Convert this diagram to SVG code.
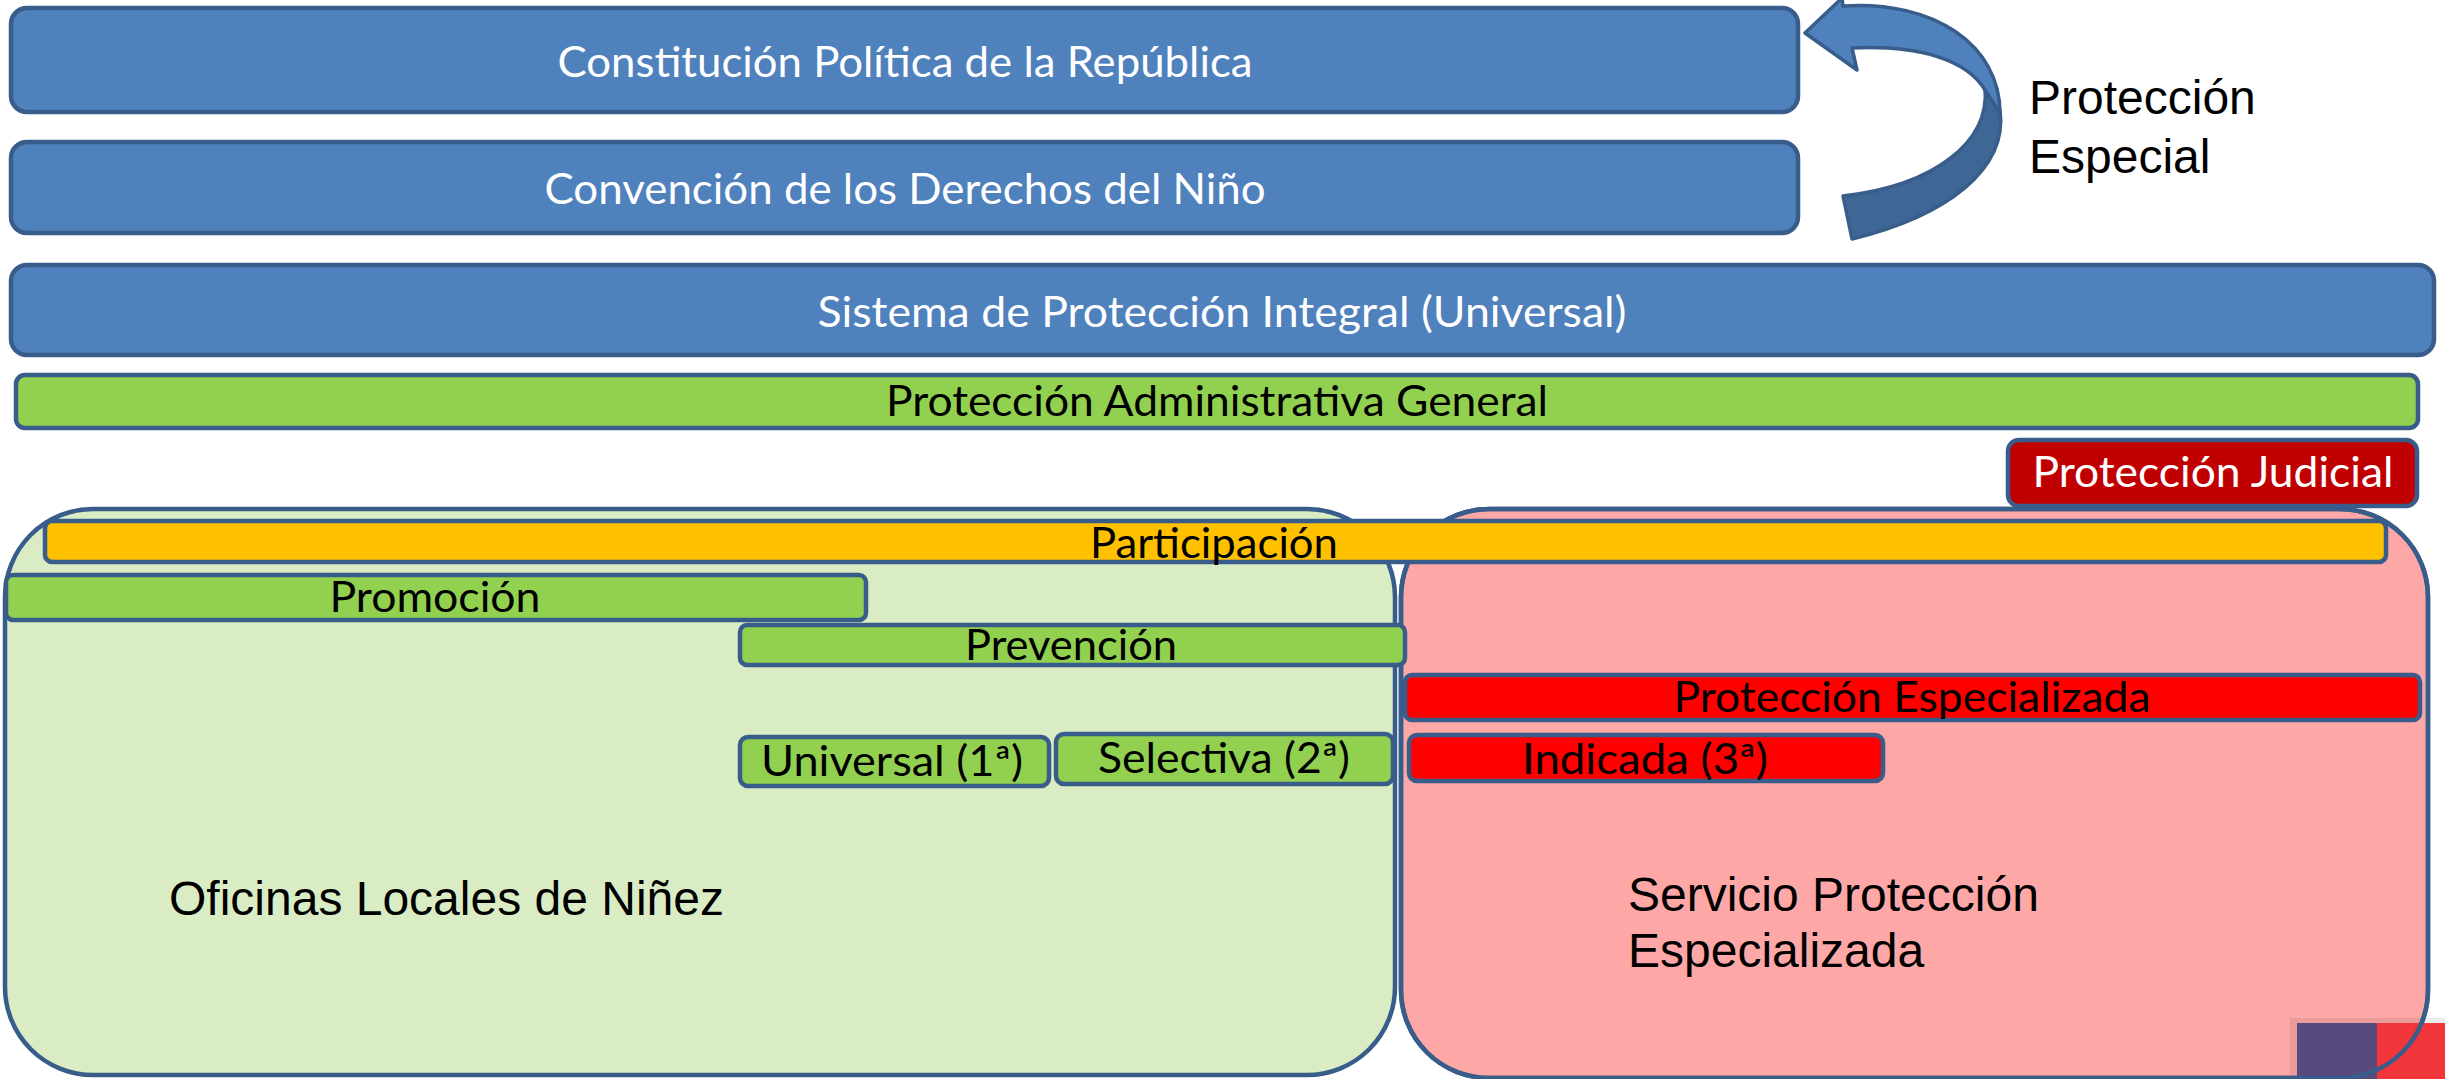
<svg xmlns="http://www.w3.org/2000/svg" width="2445" height="1079" viewBox="0 0 2445 1079">
<style>
.bx{stroke:#385D8A;stroke-width:4.5}
.blue{fill:#4F81BD}
.grn{fill:#92D050}
.red{fill:#FF0000}
.dred{fill:#C00000}
.org{fill:#FFC000}
.t{font-family:Lato,'Open Sans',sans-serif;font-size:42px;text-anchor:middle}
.w{fill:#FFFFFF}
.k{fill:#000000}
.a{font-family:'Liberation Sans',Arial,sans-serif;font-size:48px;fill:#000000}
</style>
<rect width="2445" height="1079" fill="#FFFFFF"/>

<g id="oficinas-locales">
<rect class="bx" x="5" y="509" width="1390" height="566" rx="88" fill="#D9ECC4"/>
<text class="a" x="169" y="915">Oficinas Locales de Niñez</text>
</g>

<g id="servicio-proteccion">
<rect class="bx" x="1401" y="509" width="1027" height="569" rx="88" fill="#FEA7A7"/>
<text class="a" x="1628" y="911">Servicio Protección</text>
<text class="a" x="1628" y="967">Especializada</text>
</g>

<g id="logo">
<rect x="2290" y="1018" width="155" height="61" fill="#000000" fill-opacity="0.07"/>
<rect x="2297" y="1023" width="80" height="56" fill="#584A7C"/>
<rect x="2377" y="1023" width="68" height="56" fill="#F0363A"/>
<rect x="1401" y="509" width="1027" height="569" rx="88" fill="none" stroke="#385D8A" stroke-width="4.5"/>
</g>

<g id="constitucion">
<rect class="bx blue" x="11" y="8" width="1787" height="104" rx="16"/>
<text class="t w" x="905" y="77" textLength="695" lengthAdjust="spacingAndGlyphs">Constitución Política de la República</text>
</g>

<g id="convencion">
<rect class="bx blue" x="11" y="142" width="1787" height="91" rx="16"/>
<text class="t w" x="905" y="204" textLength="721" lengthAdjust="spacingAndGlyphs">Convención de los Derechos del Niño</text>
</g>

<g id="sistema">
<rect class="bx blue" x="11" y="265" width="2423" height="90" rx="16"/>
<text class="t w" x="1222" y="327" textLength="809" lengthAdjust="spacingAndGlyphs">Sistema de Protección Integral (Universal)</text>
</g>

<g id="proteccion-administrativa">
<rect class="bx grn" x="16" y="375" width="2402" height="53" rx="9"/>
<text class="t k" x="1217" y="416" textLength="662" lengthAdjust="spacingAndGlyphs">Protección Administrativa General</text>
</g>

<g id="proteccion-judicial">
<rect class="bx dred" x="2008" y="440" width="409" height="66" rx="11"/>
<text class="t w" x="2213" y="487" textLength="361" lengthAdjust="spacingAndGlyphs">Protección Judicial</text>
</g>

<g id="participacion">
<rect class="bx org" x="45" y="521" width="2341" height="41" rx="7"/>
<text class="t k" x="1214" y="558" textLength="248" lengthAdjust="spacingAndGlyphs">Participación</text>
</g>

<g id="promocion">
<rect class="bx grn" x="6" y="575" width="860" height="45" rx="7"/>
<text class="t k" x="435" y="612" textLength="211" lengthAdjust="spacingAndGlyphs">Promoción</text>
</g>

<g id="prevencion">
<rect class="bx grn" x="740" y="625" width="665" height="40" rx="7"/>
<text class="t k" x="1071" y="660" textLength="212" lengthAdjust="spacingAndGlyphs">Prevención</text>
</g>

<g id="proteccion-especializada">
<rect class="bx red" x="1405" y="675" width="1015" height="45" rx="7"/>
<text class="t k" x="1912" y="712" textLength="477" lengthAdjust="spacingAndGlyphs">Protección Especializada</text>
</g>

<g id="universal">
<rect class="bx grn" x="740" y="737" width="309" height="49" rx="8"/>
<text class="t k" x="892" y="776" textLength="262" lengthAdjust="spacingAndGlyphs">Universal (1ª)</text>
</g>

<g id="selectiva">
<rect class="bx grn" x="1056" y="734" width="337" height="50" rx="8"/>
<text class="t k" x="1224" y="773" textLength="252" lengthAdjust="spacingAndGlyphs">Selectiva (2ª)</text>
</g>

<g id="indicada">
<rect class="bx red" x="1409" y="735" width="474" height="46" rx="8"/>
<text class="t k" x="1645" y="774" textLength="246" lengthAdjust="spacingAndGlyphs">Indicada (3ª)</text>
</g>

<g id="connectors">
<path d="M1985 88 C1990 142 1934 186 1843 196 L1852 239 C1946 216 2008 170 2000 110 Z" fill="#3F6796" stroke="#385D8A" stroke-width="3.5" stroke-linejoin="round"/>
<path d="M1805 33 L1842 -2 L1843 6 C1934 0 2000 45 2000 113 L1985 90 C1967 60 1920 45 1852 48 L1857 70 Z" fill="#4F81BD" stroke="#385D8A" stroke-width="3.5" stroke-linejoin="round"/>
</g>

<g id="proteccion-especial-label">
<text class="a" x="2029" y="114">Protección</text>
<text class="a" x="2029" y="173">Especial</text>
</g>
</svg>
